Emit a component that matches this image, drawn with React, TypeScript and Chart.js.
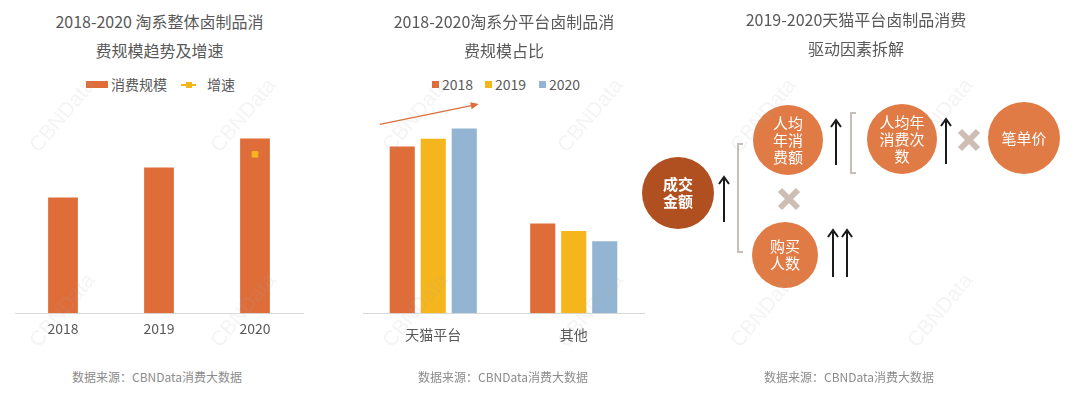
import React, { useEffect, useRef } from "react";
import { Chart, registerables } from "chart.js";
Chart.register(...registerables);

// ---- Data ----
const years1 = ["2018", "2019", "2020"];
const scaleIndex = [100, 126, 151]; // 消费规模 (index, 2018 = 100)
const growthRate = [null, null, 20]; // 增速 (%)

const platforms = ["天猫平台", "其他"];
const share2018 = [65, 35];
const share2019 = [68, 32];
const share2020 = [72, 28];

const nodeLabels = [
  ["成交", "金额"],
  ["人均", "年消", "费额"],
  ["购买", "人数"],
  ["人均年", "消费次", "数"],
  ["笔单价"],
];
const nodeX = [38, 148, 145, 262, 384];
const nodeY = [193, 140, 255, 139, 138];
const nodeR = [36, 35, 33, 35, 36];

const ORANGE = "#de6d3a";
const YELLOW = "#f5b51c";
const BLUE = "#93b5d3";
const CIRCLE = "#e07b45";
const DARK = "#b04f20";
const FONT = "'Noto Sans CJK SC', 'Noto Sans', sans-serif";
const TEXT = "#595959";
const SOURCE = "数据来源：CBNData消费大数据";

function useChart(ref: React.RefObject<HTMLCanvasElement | null>, make: (c: HTMLCanvasElement) => Chart) {
  useEffect(() => {
    if (!ref.current) return;
    const ch = make(ref.current);
    return () => ch.destroy();
  }, []);
}

function Panel1() {
  const ref = useRef<HTMLCanvasElement>(null);
  useChart(ref, (c) =>
    new Chart(c, {
      type: "bar",
      data: {
        labels: years1,
        datasets: [
          {
            type: "bar",
            label: "消费规模",
            data: scaleIndex,
            backgroundColor: ORANGE,
            barPercentage: 0.62,
            categoryPercentage: 0.5,
            yAxisID: "y",
            order: 2,
          },
          {
            type: "line",
            label: "增速",
            data: growthRate as any,
            borderColor: YELLOW,
            backgroundColor: YELLOW,
            pointStyle: "rect",
            pointRadius: 4,
            yAxisID: "y1",
            order: 1,
          } as any,
        ],
      },
      options: {
        responsive: false,
        animation: false,
        devicePixelRatio: 1,
        layout: { padding: { left: 15, right: 17, top: 0, bottom: 6 } },
        plugins: { legend: { display: false }, title: { display: false }, tooltip: { enabled: false } },
        scales: {
          x: {
            grid: { display: false, drawTicks: false },
            border: { display: true, color: "#d9d9d9", width: 1 },
            ticks: { color: TEXT, font: { family: FONT, size: 14 }, padding: 7 },
          },
          y: { display: false, min: 0, max: 180 },
          y1: { display: false, min: 0, max: 26.2 },
        },
      },
    })
  );
  return <canvas ref={ref} width={320} height={250} style={{ position: "absolute", left: 0, top: 100 }} />;
}

const trendArrow = {
  id: "trendArrow",
  afterDatasetsDraw(chart: any) {
    const { ctx, scales } = chart;
    const cx = scales.x.getPixelForValue(0);
    const x0 = cx - 53.5, x1 = cx + 45.5;
    const y0 = scales.y.getPixelForValue(73.6), y1 = scales.y.getPixelForValue(81.5);
    ctx.save();
    ctx.strokeStyle = ORANGE;
    ctx.fillStyle = ORANGE;
    ctx.lineWidth = 1.2;
    ctx.beginPath();
    ctx.moveTo(x0, y0);
    ctx.lineTo(x1 - 5, y1 + 1);
    ctx.stroke();
    const ang = Math.atan2(y1 - y0, x1 - x0);
    ctx.beginPath();
    ctx.moveTo(x1, y1);
    ctx.lineTo(x1 - 8 * Math.cos(ang) + 3.5 * Math.sin(ang), y1 - 8 * Math.sin(ang) - 3.5 * Math.cos(ang));
    ctx.lineTo(x1 - 8 * Math.cos(ang) - 3.5 * Math.sin(ang), y1 - 8 * Math.sin(ang) + 3.5 * Math.cos(ang));
    ctx.closePath();
    ctx.fill();
    ctx.restore();
  },
};

function Panel2() {
  const ref = useRef<HTMLCanvasElement>(null);
  useChart(ref, (c) =>
    new Chart(c, {
      type: "bar",
      data: {
        labels: platforms,
        datasets: [
          { label: "2018", data: share2018, backgroundColor: ORANGE },
          { label: "2019", data: share2019, backgroundColor: YELLOW },
          { label: "2020", data: share2020, backgroundColor: BLUE },
        ],
      },
      options: {
        responsive: false,
        animation: false,
        devicePixelRatio: 1,
        datasets: { bar: { categoryPercentage: 0.662, barPercentage: 0.81 } },
        layout: { padding: { left: 3, right: 6, top: 0, bottom: 2 } },
        plugins: { legend: { display: false }, title: { display: false }, tooltip: { enabled: false } },
        scales: {
          x: {
            grid: { display: false, drawTicks: false },
            border: { display: true, color: "#d9d9d9", width: 1 },
            ticks: { color: TEXT, font: { family: FONT, size: 14 }, padding: 13 },
          },
          y: { display: false, min: 0, max: 83.1 },
        },
      },
      plugins: [trendArrow],
    })
  );
  return <canvas ref={ref} width={290} height={258} style={{ position: "absolute", left: 360, top: 100 }} />;
}

function arrowUp(ctx: CanvasRenderingContext2D, x: number, yBottom: number, yTop: number) {
  ctx.beginPath();
  ctx.moveTo(x, yBottom);
  ctx.lineTo(x, yTop + 2);
  ctx.stroke();
  ctx.beginPath();
  ctx.moveTo(x - 5, yTop + 7);
  ctx.lineTo(x, yTop);
  ctx.lineTo(x + 5, yTop + 7);
  ctx.stroke();
}

function bracket(ctx: CanvasRenderingContext2D, x: number, y0: number, y1: number) {
  ctx.beginPath();
  ctx.moveTo(x + 5, y0);
  ctx.lineTo(x, y0);
  ctx.lineTo(x, y1);
  ctx.lineTo(x + 5, y1);
  ctx.stroke();
}

function cross(ctx: CanvasRenderingContext2D, x: number, y: number) {
  const h = 9;
  ctx.beginPath();
  ctx.moveTo(x - h, y - h);
  ctx.lineTo(x + h, y + h);
  ctx.moveTo(x + h, y - h);
  ctx.lineTo(x - h, y + h);
  ctx.stroke();
}

const diagramPlugin = {
  id: "diagram",
  afterDatasetsDraw(chart: any) {
    const { ctx, scales } = chart;
    const X = (v: number) => scales.x.getPixelForValue(v);
    const Y = (v: number) => scales.y.getPixelForValue(v);
    ctx.save();
    // brackets
    ctx.strokeStyle = "#c9bdb7";
    ctx.lineWidth = 2;
    bracket(ctx, X(98), Y(144), Y(252));
    bracket(ctx, X(211), Y(113), Y(173));
    // crosses
    ctx.strokeStyle = "#cdbdb3";
    ctx.lineWidth = 6;
    ctx.lineCap = "butt";
    cross(ctx, X(149), Y(199));
    cross(ctx, X(329), Y(140));
    // arrows
    ctx.strokeStyle = "#1a1a1a";
    ctx.lineWidth = 2;
    ctx.lineCap = "butt";
    arrowUp(ctx, X(84), Y(222), Y(177));
    arrowUp(ctx, X(196), Y(165), Y(120));
    arrowUp(ctx, X(193), Y(277), Y(230));
    arrowUp(ctx, X(207), Y(277), Y(230));
    arrowUp(ctx, X(306), Y(164), Y(119));
    // node text
    const meta = chart.getDatasetMeta(0);
    meta.data.forEach((el: any, i: number) => {
      const lines = nodeLabels[i];
      ctx.fillStyle = "#ffffff";
      ctx.font = `${i === 0 ? "bold " : ""}15px ${FONT}`;
      ctx.textAlign = "center";
      ctx.textBaseline = "middle";
      const lh = 17;
      lines.forEach((t, k) => {
        ctx.fillText(t, el.x, el.y + (k - (lines.length - 1) / 2) * lh);
      });
    });
    ctx.restore();
  },
};

function Panel3() {
  const ref = useRef<HTMLCanvasElement>(null);
  useChart(ref, (c) =>
    new Chart(c, {
      type: "bubble",
      data: {
        datasets: [
          {
            label: "驱动因素",
            data: nodeX.map((x, i) => ({ x, y: nodeY[i], r: nodeR[i] })),
            backgroundColor: nodeX.map((_, i) => (i === 0 ? DARK : CIRCLE)),
            borderWidth: 0,
            hoverRadius: 0,
          },
        ],
      },
      options: {
        responsive: false,
        animation: false,
        devicePixelRatio: 1,
        layout: { padding: 0, autoPadding: false },
        plugins: { legend: { display: false }, title: { display: false }, tooltip: { enabled: false } },
        scales: {
          x: { type: "linear", display: false, min: 0, max: 440 },
          y: { type: "linear", display: false, min: 0, max: 398, reverse: true },
        },
      },
      plugins: [diagramPlugin],
    })
  );
  return <canvas ref={ref} width={440} height={398} style={{ position: "absolute", left: 640, top: 0 }} />;
}

function Title({ cx, top, lines }: { cx: number; top: number; lines: string[] }) {
  return (
    <div
      style={{
        position: "absolute",
        left: cx - 160,
        width: 320,
        top,
        textAlign: "center",
        fontSize: 16,
        lineHeight: "29px",
        color: TEXT,
        fontFamily: FONT,
        whiteSpace: "pre",
      }}
    >
      {lines.map((l) => (
        <div key={l}>{l}</div>
      ))}
    </div>
  );
}

function Source({ cx }: { cx: number }) {
  return (
    <div
      style={{
        position: "absolute",
        left: cx - 120,
        width: 240,
        top: 369,
        textAlign: "center",
        fontSize: 12,
        lineHeight: "16px",
        color: "#8c8c8c",
        fontFamily: FONT,
      }}
    >
      {SOURCE}
    </div>
  );
}

const legendText: React.CSSProperties = {
  position: "absolute",
  fontSize: 14,
  lineHeight: "18px",
  color: TEXT,
  fontFamily: FONT,
  top: 75,
};

const wmX = [62, 243, 415, 590, 763, 940];
const wmY = [115, 310];

export default function App() {
  return (
    <div style={{ position: "fixed", left: 0, top: 0, width: 1080, height: 398, background: "#fff", overflow: "hidden" }}>
      <Panel1 />
      <Panel2 />
      <Panel3 />
      <Title cx={159.5} top={7} lines={["2018-2020 淘系整体卤制品消", "费规模趋势及增速"]} />
      <Title cx={504} top={7} lines={["2018-2020淘系分平台卤制品消", "费规模占比"]} />
      <Title cx={856} top={5} lines={["2019-2020天猫平台卤制品消费", "驱动因素拆解"]} />
      {/* legend panel 1 */}
      <div style={{ position: "absolute", left: 86, top: 81, width: 22, height: 7, background: ORANGE }} />
      <div style={{ ...legendText, left: 111 }}>消费规模</div>
      <div style={{ position: "absolute", left: 181, top: 83.5, width: 15, height: 2, background: YELLOW }} />
      <div style={{ position: "absolute", left: 186, top: 81.5, width: 6, height: 6, background: YELLOW }} />
      <div style={{ ...legendText, left: 207 }}>增速</div>
      {/* legend panel 2 */}
      <div style={{ position: "absolute", left: 432, top: 81, width: 7, height: 7, background: ORANGE }} />
      <div style={{ ...legendText, left: 442 }}>2018</div>
      <div style={{ position: "absolute", left: 485, top: 81, width: 7, height: 7, background: YELLOW }} />
      <div style={{ ...legendText, left: 495 }}>2019</div>
      <div style={{ position: "absolute", left: 539, top: 81, width: 7, height: 7, background: BLUE }} />
      <div style={{ ...legendText, left: 549 }}>2020</div>
      <Source cx={157} />
      <Source cx={503} />
      <Source cx={849} />
      {wmX.map((x) =>
        wmY.map((y) => (
          <div
            key={`${x}-${y}`}
            style={{
              position: "absolute",
              left: x - 50,
              top: y - 12,
              width: 100,
              textAlign: "center",
              fontSize: 21,
              lineHeight: "24px",
              fontFamily: "'Liberation Sans', sans-serif",
              color: "rgba(170,170,170,0.13)",
              transform: "rotate(-50deg)",
              pointerEvents: "none",
            }}
          >
            CBNData
          </div>
        ))
      )}
    </div>
  );
}
